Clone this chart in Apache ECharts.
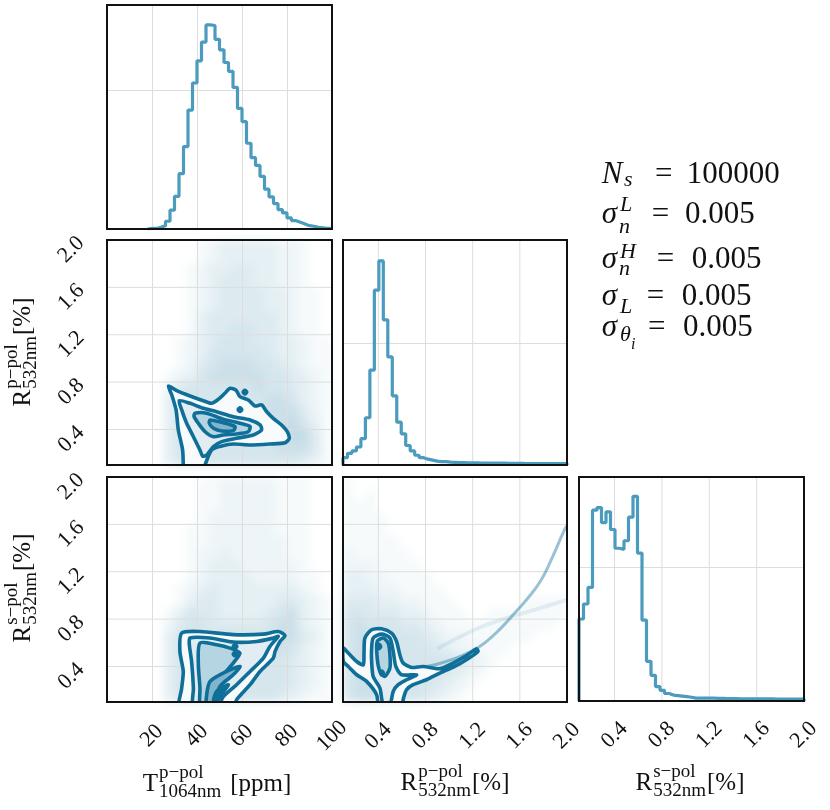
<!DOCTYPE html>
<html>
<head>
<meta charset="utf-8">
<script src="https://cdn.jsdelivr.net/npm/echarts@6/dist/echarts.min.js"></script>
<style>html,body{margin:0;padding:0;background:#fff}#chart{width:830px;height:810px}</style>
</head>
<body>
<div id="chart"></div>
<script>
// ---------------- DATA ----------------
const tRange = [0, 100];
const rRange = [0.1, 2.0];
const tTicks = [20, 40, 60, 80, 100];
const rTicks = [0.4, 0.8, 1.2, 1.6, 2.0];

// 1D marginal histograms (density, 50 bins each)
const tHist = [0,0,0,0,0,0,0,0,0,0.0001,0.0001,0.0003,0.0006,0.0014,0.0034,0.0059,0.0100,0.0149,0.0215,0.0264,
  0.0304,0.0338,0.0369,0.0368,0.0343,0.0324,0.0301,0.0285,0.0256,0.0218,0.0194,0.0155,0.0129,0.0115,0.0095,
  0.0072,0.0058,0.0046,0.0035,0.0029,0.0020,0.0015,0.0012,0.0009,0.0006,0.0005,0.0003,0.0002,0.0001,0.0001];
const rpHist = [0.15,0.24,0.29,0.37,0.54,0.97,1.95,3.59,4.19,2.98,2.22,1.42,0.88,0.64,0.40,0.29,0.20,0.15,0.12,0.10,
  0.08,0.07,0.07,0.06,0.055,0.05,0.05,0.045,0.045,0.045,0.04,0.04,0.04,0.04,0.04,0.04,0.035,0.035,0.035,0.035,
  0.03,0.03,0.03,0.03,0.03,0.03,0.03,0.03,0.03,0.03];
const rsHist = [1.53,1.81,2.12,3.56,3.61,3.33,3.53,3.20,2.85,2.83,2.99,3.43,3.82,2.76,1.51,0.74,0.48,0.27,0.20,0.14,
  0.11,0.10,0.09,0.08,0.07,0.055,0.055,0.055,0.055,0.055,0.05,0.05,0.045,0.045,0.045,0.04,0.04,0.04,0.04,0.04,
  0.04,0.04,0.04,0.035,0.035,0.035,0.035,0.035,0.035,0.035];

// scatter point density (0-9) per cell: 20 columns x 19 rows (top row = 1.9..2.0)
const dens21 = [
  '00000000123333322100','00000000123333322100','00000001233443322100','00000001234443322100',
  '00000001234444332110','00000001234444332110','00000001344444432110','00000001344554432110',
  '00000012345554433211','00000012355555433211','00000012456665543211','00000123566666554321',
  '00000245555556554321','00000345555555665321','00000356555555666421','00000356555555567531',
  '00000356555555567741','00000355555555566641','00000355555555555431'];
const dens31 = [
  '00000000112222211100','00000000112222211100','00000000112222211100','00000000122222211100',
  '00000001122222211100','00000001122222221100','00000001223222221100','00000001233322222100',
  '00000001233332222110','00000012343333333210','00000013443333344321','00000135443333456321',
  '00000245544444566321','00000355555555566431','00000355555555565321','00000355555555554321',
  '00000355555555554321','00000355555555554321','00000355555555543211'];
const dens32 = [
  '10000000000000000000','10100000000000000000','11100000000000000000','11110000000000000000',
  '11110000000000000000','11111000000000000000','21111100000000000000','22211110000000000000',
  '33221111000000000000','33322111100000000000','44433221110000001111','55444332111001111111',
  '56555443211111111110','56655554322111111000','56655555432211100000','56655555554321000000',
  '56655555543210000000','56655555432100000000','56655554321000000000'];

// contour polygons (level 1 = outermost)
const cont21 = [
  {lv:1, pts:[[27.3,0.767],[31.0,0.728],[36.9,0.683],[42.8,0.643],[46.5,0.621],[49.5,0.655],[52.4,0.706],[54.7,0.748],
    [57.3,0.733],[59.1,0.677],[62.8,0.649],[65.8,0.598],[68.7,0.607],[71.0,0.550],[73.9,0.494],[77.6,0.438],[80.1,0.381],
    [81.0,0.325],[79.1,0.288],[72.4,0.277],[63.6,0.269],[56.1,0.277],[51.0,0.260],[46.5,0.227],[43.6,0.10],[43.3,0.05],
    [33.9,0.05],[33.9,0.10],[33.6,0.227],[31.7,0.396],[30.7,0.565],[28.8,0.691]]},
  {lv:2, pts:[[32.1,0.643],[36.9,0.621],[42.8,0.579],[48.7,0.550],[56.1,0.508],[63.6,0.480],[68.0,0.438],[68.7,0.396],
    [65.0,0.353],[57.6,0.325],[51.0,0.297],[47.3,0.255],[44.3,0.184],[42.5,0.176],[41.3,0.227],[38.4,0.339],[35.4,0.452],[33.2,0.565]]},
  {lv:3, pts:[[39.1,0.537],[44.3,0.537],[51.7,0.486],[59.1,0.452],[63.6,0.424],[62.8,0.381],[57.6,0.362],[51.7,0.353],
    [47.3,0.339],[43.6,0.381],[40.6,0.452],[38.7,0.508]]},
  {lv:4, pts:[[45.8,0.480],[51.7,0.457],[56.9,0.424],[56.1,0.390],[51.0,0.387],[47.3,0.410],[45.5,0.452]]},
  {lv:5, pts:[[60.5,0.716],[61.3,0.731],[62.1,0.716],[61.3,0.701]]},
  {lv:5, pts:[[58.3,0.567],[59.1,0.582],[59.9,0.567],[59.1,0.552]]}
];
const cont31 = [
  {lv:1, pts:[[33.2,0.682],[41.3,0.695],[56.1,0.669],[69.5,0.673],[76.1,0.695],[79.1,0.661],[76.9,0.611],[74.7,0.527],
    [73.9,0.471],[68.0,0.358],[63.6,0.246],[57.6,0.119],[56.1,0.049],[32.4,0.049],[33.2,0.218],[33.9,0.358],[32.4,0.527]]},
  {lv:2, pts:[[36.9,0.640],[45.8,0.640],[56.1,0.606],[66.5,0.611],[73.9,0.640],[76.1,0.654],[72.4,0.569],[69.5,0.471],
    [63.6,0.358],[57.6,0.246],[51.7,0.146],[48.7,0.049],[38.4,0.049],[38.4,0.218],[37.6,0.442],[36.6,0.584]]},
  {lv:3, pts:[[41.3,0.597],[48.7,0.583],[54.7,0.555],[59.1,0.513],[56.1,0.429],[51.7,0.330],[47.3,0.218],[43.6,0.049],
    [41.3,0.049],[41.3,0.218],[40.6,0.414]]},
  {lv:4, pts:[[45.8,0.274],[53.2,0.358],[59.1,0.400],[56.1,0.330],[50.2,0.232],[46.5,0.049],[44.3,0.049],[44.3,0.162]]},
  {lv:5, pts:[[48.7,0.190],[53.9,0.246],[52.4,0.204],[48.7,0.107],[47.3,0.107]]},
  {lv:5, pts:[[56.1,0.569],[56.9,0.584],[57.7,0.569],[56.9,0.554]]},
  {lv:5, pts:[[56.1,0.505],[56.9,0.520],[57.7,0.505],[56.9,0.490]]}
];
const cont32 = [
  {lv:1, pts:[[0.103,0.555],[0.145,0.513],[0.216,0.442],[0.272,0.414],[0.278,0.499],[0.286,0.640],[0.343,0.710],[0.427,0.718],
    [0.512,0.682],[0.554,0.611],[0.582,0.499],[0.610,0.429],[0.681,0.392],[0.779,0.400],[0.921,0.381],[1.033,0.429],
    [1.147,0.493],[1.231,0.549],[1.245,0.527],[1.160,0.465],[1.048,0.400],[0.921,0.344],[0.808,0.288],[0.695,0.246],
    [0.639,0.204],[0.610,0.119],[0.597,0.03],[0.413,0.03],[0.385,0.162],[0.300,0.274],[0.216,0.330],[0.145,0.400],[0.103,0.442]]},
  {lv:2, pts:[[0.356,0.640],[0.427,0.673],[0.498,0.640],[0.526,0.527],[0.548,0.400],[0.597,0.330],[0.724,0.330],[0.639,0.288],
    [0.568,0.246],[0.526,0.190],[0.498,0.077],[0.441,0.077],[0.413,0.218],[0.356,0.316],[0.343,0.442],[0.343,0.555]]},
  {lv:3, pts:[[0.390,0.611],[0.441,0.640],[0.484,0.597],[0.498,0.499],[0.498,0.387],[0.455,0.316],[0.413,0.358],[0.390,0.471]]},
  {lv:5, pts:[[0.395,0.569],[0.407,0.587],[0.419,0.569],[0.407,0.551]]},
  {lv:5, pts:[[0.418,0.344],[0.430,0.362],[0.442,0.344],[0.430,0.326]]}
];
// thin ridges of scatter points in the Rp / Rs panel
const ridgeMain = [[0.68,0.378],[0.88,0.414],[1.02,0.457],[1.19,0.527],[1.30,0.597],[1.44,0.724],[1.555,0.850],
  [1.668,0.977],[1.781,1.131],[1.866,1.30],[1.978,1.553],[2.0,1.59]];
const ridgeFaint = [[0.90,0.55],[1.217,0.71],[1.443,0.794],[1.724,0.878],[2.0,0.965]];

// ---------------- STYLE ----------------
const HIST_COLOR = '#4a9bbd';
const CONT_COLOR = '#0f6f99';
const LEVEL_FILL = ['#f8fbfc', '#e1edf3', '#b6d5e3', '#82b5cd', '#0f6f99'];
const GRID_LINE = '#dddddd';
const FONT = '"Liberation Serif"';
const ZL = 1; // layer for everything except the blurred point haze

const grids = [
  {left:107, top:5, width:225, height:224},
  {left:107, top:240, width:225, height:225},
  {left:343, top:240, width:224, height:225},
  {left:107, top:477, width:225, height:225},
  {left:343, top:477, width:224, height:225},
  {left:579, top:477, width:225, height:224}
].map(g => Object.assign(g, {show:true, borderColor:'#111', borderWidth:2, backgroundColor:'rgba(0,0,0,0)', z:10, zlevel:ZL}));

function isTick(v, ticks){ return ticks.some(t => Math.abs(t - v) < 1e-6); }
const tickLabel = {rotate:45, fontFamily:FONT, fontSize:22, color:'#111'};

function tAxis(gi, labels){
  return {type:'value', gridIndex:gi, zlevel:ZL, min:tRange[0], max:tRange[1], interval:20,
    axisLine:{show:false}, axisTick:{show:false},
    splitLine:{show:true, lineStyle:{color:GRID_LINE, width:1}},
    axisLabel: labels ? Object.assign({margin:34, align:'center', verticalAlign:'middle',
      formatter:v => isTick(v, tTicks) ? String(v) : ''}, tickLabel) : {show:false}};
}
function rAxis(gi, labels, isY){
  const lab = isY ? Object.assign({margin:26, align:'right', verticalAlign:'middle'}, tickLabel)
                  : Object.assign({margin:34, align:'center', verticalAlign:'middle'}, tickLabel);
  lab.formatter = v => isTick(v, rTicks) ? v.toFixed(1) : '';
  return {type:'value', gridIndex:gi, zlevel:ZL, min:rRange[0], max:rRange[1], interval:0.1,
    axisLine:{show:false}, axisTick:{show:false}, splitLine:{show:false},
    axisLabel: labels ? lab : {show:false}};
}
function histY(gi, max, interval){
  return {type:'value', gridIndex:gi, zlevel:ZL, min:0, max:max, interval:interval,
    axisLine:{show:false}, axisTick:{show:false}, axisLabel:{show:false},
    splitLine:{show:true, lineStyle:{color:GRID_LINE, width:1}}};
}

const xAxis = [tAxis(0,false), tAxis(1,false), rAxis(2,false,false), tAxis(3,true), rAxis(4,true,false), rAxis(5,true,false)];
const yAxis = [histY(0,0.0405,0.025), rAxis(1,true,true), histY(2,4.62,2.5), rAxis(3,true,true), rAxis(4,false,true), histY(5,4.18,2.5)];

function histSeries(idx, vals, lo, hi){
  const w = (hi - lo) / vals.length;
  let first = vals.findIndex(v => v > 0);
  const pts = [[lo + first*w, 0]];
  for (let i = first; i < vals.length; i++) pts.push([lo + i*w, vals[i]]);
  pts.push([hi, vals[vals.length-1]]);
  pts.push([hi, 0]);
  return {type:'line', xAxisIndex:idx, yAxisIndex:idx, zlevel:ZL, data:pts, step:'end', symbol:'none', z:4,
    lineStyle:{color:HIST_COLOR, width:3.2}, silent:true, clip:true};
}

// grid lines at the R tick values (the R axes start at 0.1, so ticks are placed by value)
function gridLines(idx, xVals, yVals, xr, yr){
  const data = xVals.map(v => [v, 0]).concat(yVals.map(v => [v, 1]));
  return {type:'custom', xAxisIndex:idx, yAxisIndex:idx, zlevel:ZL, z:1, silent:true, data:data,
    encode:{x:0, y:1},
    renderItem:(params, api) => {
      const v = api.value(0), f = api.value(1);
      const a = f === 0 ? api.coord([v, yr[0]]) : api.coord([xr[0], v]);
      const b = f === 0 ? api.coord([v, yr[1]]) : api.coord([xr[1], v]);
      return {type:'line', shape:{x1:a[0], y1:a[1], x2:b[0], y2:b[1]}, style:{stroke:GRID_LINE, lineWidth:1}};
    }};
}

function hazeSeries(idx, rows, xr){
  const nc = rows[0].length, dx = (xr[1]-xr[0]) / nc, dy = 0.1;
  const data = [];
  rows.forEach((row, r) => {
    for (let c = 0; c < nc; c++) {
      const lev = +row[c];
      if (lev > 0) data.push([xr[0] + (c+0.5)*dx, 2.0 - (r+0.5)*dy, lev]);
    }
  });
  return {type:'custom', xAxisIndex:idx, yAxisIndex:idx, zlevel:0, data:data, z:2, silent:true, clip:true,
    encode:{x:0, y:1},
    renderItem:(params, api) => {
      const cx = api.value(0), cy = api.value(1), lev = api.value(2);
      const p0 = api.coord([cx - dx/2, cy - dy/2]);
      const p1 = api.coord([cx + dx/2, cy + dy/2]);
      return {type:'rect', shape:{x:p0[0], y:p1[1], width:p1[0]-p0[0], height:p0[1]-p1[1]},
        style:{fill:'rgba(30,120,160,' + (lev*0.038).toFixed(3) + ')'}};
    }};
}

function contourSeries(idx, conts){
  return {type:'custom', xAxisIndex:idx, yAxisIndex:idx, zlevel:ZL, data:conts.map(c => c.pts[0]), z:5, silent:true, clip:true,
    encode:{x:0, y:1},
    renderItem:(params, api) => {
      const c = conts[params.dataIndex];
      const pts = c.pts.map(p => api.coord(p));
      return {type:'polygon', shape:{points:pts, smooth:0.25},
        style:{fill:LEVEL_FILL[c.lv-1], stroke:CONT_COLOR, lineWidth:3.6, lineJoin:'round'}};
    }};
}

function ridge(idx, pts, width, alpha){
  return {type:'line', xAxisIndex:idx, yAxisIndex:idx, zlevel:ZL, data:pts, smooth:true, symbol:'none', z:3, silent:true,
    lineStyle:{color:'rgba(30,120,160,' + alpha + ')', width:width}};
}

const rInner = rTicks.filter(v => v < rRange[1] - 1e-6);
const series = [
  histSeries(0, tHist, tRange[0], tRange[1]),
  gridLines(1, [], rInner, tRange, rRange),
  hazeSeries(1, dens21, tRange),
  contourSeries(1, cont21),
  histSeries(2, rpHist, rRange[0], rRange[1]),
  gridLines(2, rInner, [], rRange, [0, 4.62]),
  gridLines(3, [], rInner, tRange, rRange),
  hazeSeries(3, dens31, tRange),
  contourSeries(3, cont31),
  gridLines(4, rInner, rInner, rRange, rRange),
  hazeSeries(4, dens32, rRange),
  ridge(4, ridgeFaint, 4, 0.10),
  ridge(4, ridgeMain, 3, 0.45),
  contourSeries(4, cont32),
  histSeries(5, rsHist, rRange[0], rRange[1]),
  gridLines(5, rInner, [], rRange, [0, 4.18])
];

// ---------------- TEXT ----------------
const mctx = document.createElement('canvas').getContext('2d');
function tw(s, font){ mctx.font = font; return mctx.measureText(s).width; }
const MAIN = 25, SCR = 19;
const FM = MAIN + 'px ' + FONT, FS = SCR + 'px ' + FONT;
function txt(s, x, y, font){
  return {type:'text', x:x, y:y, silent:true, zlevel:ZL, style:{text:s, font:font, fill:'#111', align:'left', verticalAlign:'middle'}};
}
function scripted(base, sup, sub, suffix, gap){
  const wb = tw(base, FM), ws = Math.max(tw(sup, FS), tw(sub, FS));
  const xs = wb + 1, xf = xs + ws + gap;
  const W = xf + tw(suffix, FM);
  return {W:W, kids:[
    txt(base, 0, -0.3375*MAIN, FM),
    txt(sup, xs, -14 - 0.3375*SCR, FS),
    txt(sub, xs, 5 - 0.3375*SCR, FS),
    txt(suffix, xf, -0.3375*MAIN, FM)]};
}
function hTitle(parts, cx, base){
  const s = scripted.apply(null, parts);
  return {type:'group', zlevel:ZL, x:cx - s.W/2, y:base, children:s.kids};
}
function vTitle(parts, bx, cy){
  const s = scripted.apply(null, parts);
  return {type:'group', zlevel:ZL, x:bx, y:cy + s.W/2, rotation:Math.PI/2, children:s.kids};
}
const axisTitles = [
  hTitle(['T', 'p\u2212pol', '1064nm', '[ppm]', 9], 217, 793),
  hTitle(['R', 'p\u2212pol', '532nm', '[%]', 1], 455, 792),
  hTitle(['R', 's\u2212pol', '532nm', '[%]', 1], 690, 792),
  vTitle(['R', 'p\u2212pol', '532nm', '[%]', 1], 32, 352),
  vTitle(['R', 's\u2212pol', '532nm', '[%]', 1], 32, 588)
];
// annotation block: [text, x, y(middle), size, italic]
const mathPieces = [
  ['N',601.7,174.5,31,true], ['s',624,180.6,22,true], ['=',655,174.5,31,false], ['100000',686.7,174.5,31,false],
  ['\u03c3',601.7,214.5,31,true], ['L',620,205.6,22,true], ['n',619,227.6,22,true], ['=',651.7,214.5,31,false], ['0.005',685,214.5,31,false],
  ['\u03c3',601.7,259.5,31,true], ['H',620,252.6,22,true], ['n',619,269.6,22,true], ['=',656.7,259.5,31,false], ['0.005',691.7,259.5,31,false],
  ['\u03c3',601.7,296.5,31,true], ['L',620,307.6,22,true], ['=',646.7,296.5,31,false], ['0.005',681.7,296.5,31,false],
  ['\u03c3',601.7,327.5,31,true], ['\u03b8',620,335.6,22,true], ['i',631,344.6,16,true], ['=',648,327.5,31,false], ['0.005',683,327.5,31,false]
];
const mathGraphics = mathPieces.map(p => txt(p[0], p[1], p[2], (p[4] ? 'italic ' : '') + p[3] + 'px ' + FONT));

const chart = echarts.init(document.getElementById('chart'), null, {renderer:'canvas'});
chart.setOption({
  animation:false,
  backgroundColor:'#ffffff',
  grid:grids,
  xAxis:xAxis,
  yAxis:yAxis,
  series:series,
  graphic:axisTitles.concat(mathGraphics)
});
// soften the point-density layer (zlevel 0) so it reads as a cloud of points rather than blocks
const layers = document.querySelectorAll('#chart canvas');
if (layers.length > 1) layers[0].style.filter = 'blur(4px)';
</script>
</body>
</html>
